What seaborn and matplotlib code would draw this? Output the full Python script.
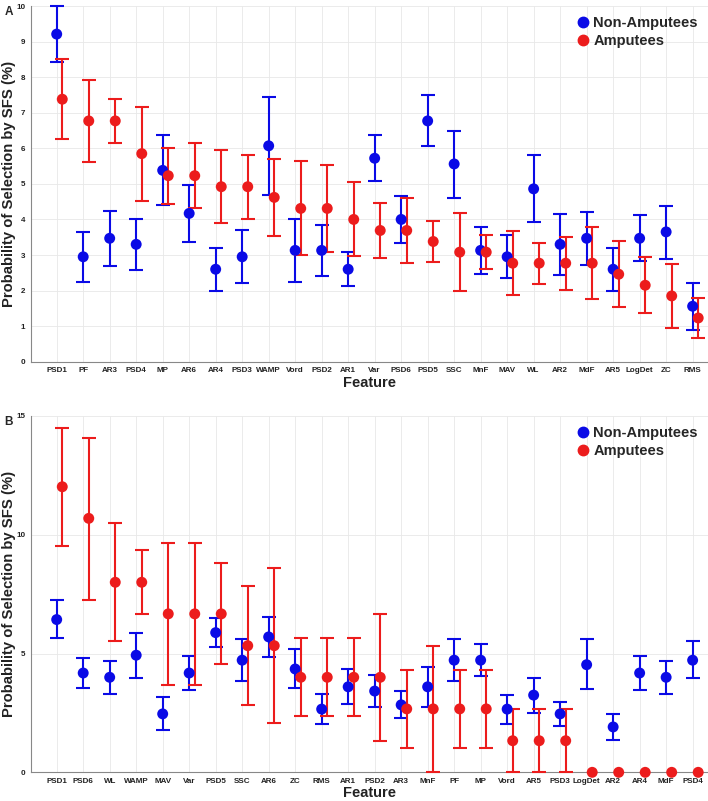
import numpy as np
import pandas as pd
import matplotlib
matplotlib.use("Agg")
import matplotlib.pyplot as plt
import seaborn as sns
from matplotlib.lines import Line2D

# ── Data: panel A ────────────────────────────────────────────
feat_a = ["PSD1", "PF", "AR3", "PSD4", "MP", "AR6", "AR4", "PSD3", "WAMP", "Vord",
          "PSD2", "AR1", "Var", "PSD6", "PSD5", "SSC", "MnF", "MAV", "WL", "AR2",
          "MdF", "AR5", "LogDet", "ZC", "RMS"]
non_a = [9.21, 2.95, 3.47, 3.30, 5.38, 4.17, 2.60, 2.95, 6.07, 3.13,
         3.13, 2.60, 5.72, 4.00, 6.77, 5.56, 3.13, 2.95, 4.86, 3.30,
         3.47, 2.60, 3.47, 3.65, 1.56]
non_a_hi = [10.0, 3.65, 4.25, 4.02, 6.38, 4.97, 3.20, 3.69, 7.45, 4.00,
            3.84, 3.08, 6.37, 4.65, 7.50, 6.50, 3.78, 3.55, 5.80, 4.15,
            4.22, 3.20, 4.12, 4.39, 2.22]
non_a_lo = [8.42, 2.25, 2.70, 2.58, 4.40, 3.37, 2.00, 2.21, 4.70, 2.25,
            2.42, 2.13, 5.09, 3.33, 6.07, 4.61, 2.47, 2.35, 3.93, 2.45,
            2.73, 2.00, 2.82, 2.90, 0.88]
amp_a = [7.38, 6.77, 6.77, 5.85, 5.23, 5.23, 4.92, 4.92, 4.62, 4.31,
         4.31, 4.00, 3.69, 3.69, 3.38, 3.08, 3.08, 2.77, 2.77, 2.77,
         2.77, 2.46, 2.15, 1.85, 1.23]
amp_a_hi = [8.51, 7.92, 7.38, 7.17, 6.02, 6.15, 5.95, 5.82, 5.71, 5.63,
            5.54, 5.04, 4.47, 4.60, 3.96, 4.17, 3.57, 3.67, 3.34, 3.52,
            3.78, 3.38, 2.95, 2.74, 1.80]
amp_a_lo = [6.25, 5.62, 6.15, 4.52, 4.44, 4.31, 3.90, 4.02, 3.53, 2.99,
            3.08, 2.96, 2.91, 2.77, 2.80, 1.98, 2.60, 1.87, 2.19, 2.02,
            1.75, 1.54, 1.36, 0.95, 0.66]

# ── Data: panel B ────────────────────────────────────────────
feat_b = ["PSD1", "PSD6", "WL", "WAMP", "MAV", "Var", "PSD5", "SSC", "AR6", "ZC",
          "RMS", "AR1", "PSD2", "AR3", "MnF", "PF", "MP", "Vord", "AR5", "PSD3",
          "LogDet", "AR2", "AR4", "MdF", "PSD4"]
non_b = [6.43, 4.18, 4.00, 4.93, 2.46, 4.18, 5.88, 4.72, 5.70, 4.35,
         2.66, 3.60, 3.42, 2.84, 3.60, 4.72, 4.72, 2.66, 3.25, 2.46,
         4.53, 1.91, 4.18, 4.00, 4.72]
non_b_hi = [7.26, 4.80, 4.70, 5.86, 3.18, 4.90, 6.48, 5.62, 6.52, 5.20,
            3.28, 4.35, 4.10, 3.42, 4.44, 5.62, 5.42, 3.27, 3.97, 2.96,
            5.60, 2.45, 4.90, 4.70, 5.52]
non_b_lo = [5.64, 3.57, 3.29, 3.98, 1.77, 3.45, 5.29, 3.86, 4.87, 3.54,
            2.05, 2.88, 2.75, 2.27, 2.77, 3.86, 4.05, 2.05, 2.48, 1.96,
            3.52, 1.36, 3.45, 3.28, 3.96]
amp_b = [12.02, 10.69, 8.00, 8.00, 6.67, 6.67, 6.67, 5.33, 5.33, 4.00,
         4.00, 4.00, 4.00, 2.67, 2.67, 2.67, 2.67, 1.33, 1.33, 1.33,
         0.0, 0.0, 0.0, 0.0, 0.0]
amp_b_hi = [14.49, 14.07, 10.51, 9.35, 9.66, 9.66, 8.80, 7.84, 8.60, 5.65,
            5.65, 5.65, 6.66, 4.31, 5.33, 4.31, 4.31, 2.67, 2.67, 2.67,
            0.0, 0.0, 0.0, 0.0, 0.0]
amp_b_lo = [9.52, 7.27, 5.51, 6.67, 3.69, 3.69, 4.56, 2.85, 2.08, 2.37,
            2.37, 2.37, 1.33, 1.04, 0.0, 1.04, 1.04, 0.0, 0.0, 0.0,
            0.0, 0.0, 0.0, 0.0, 0.0]

BLUE = "#0a0ae6"
RED = "#ec1c1c"
GROUPS = ["Non-Amputees", "Amputees"]
PALETTE = {"Non-Amputees": BLUE, "Amputees": RED}

sns.set_style("whitegrid")
plt.rcParams["font.family"] = ["Liberation Sans", "DejaVu Sans"]
plt.rcParams["font.weight"] = "bold"


def make_frame(feats, nv, nhi, nlo, av, ahi, alo):
    pos = np.arange(1, len(feats) + 1)
    rows = []
    for grp, v, hi, lo, off in [(GROUPS[0], nv, nhi, nlo, 0.0),
                                (GROUPS[1], av, ahi, alo, 0.21)]:
        rows.append(pd.DataFrame({"feature": feats, "x": pos + off, "group": grp,
                                  "value": v, "hi": hi, "lo": lo}))
    return pd.concat(rows, ignore_index=True)


def draw_panel(ax, df, feats, ymax, yticks):
    for grp in GROUPS:
        d = df[df["group"] == grp]
        d = d[d["hi"] > d["lo"]]
        ax.errorbar(d["x"], d["value"], yerr=[d["value"] - d["lo"], d["hi"] - d["value"]],
                    fmt="none", ecolor=PALETTE[grp], elinewidth=1.5, capsize=5,
                    capthick=1.5, zorder=3, clip_on=False)
        sub = df[df["group"] == grp]
        sns.scatterplot(data=sub, x="x", y="value", color=PALETTE[grp], s=62,
                        edgecolor="none", linewidth=0, ax=ax, legend=False, zorder=4)
    for coll in ax.collections:
        coll.set_clip_on(False)

    ax.set_xlim(0.02, 25.58)
    ax.set_ylim(0, ymax)
    ax.set_xticks(np.arange(1, len(feats) + 1))
    ax.set_xticklabels(feats)
    ax.set_yticks(yticks)
    ax.tick_params(axis="both", direction="in", length=3, width=0.6, color="#888888",
                   labelsize=5.8, labelcolor="#222222", pad=4)
    for lab in ax.get_xticklabels() + ax.get_yticklabels():
        lab.set_fontweight("bold")
    ax.grid(True, color="#e8e8e8", linewidth=0.6)
    for side in ["top", "right"]:
        ax.spines[side].set_visible(False)
    for side in ["left", "bottom"]:
        ax.spines[side].set_color("#888888")
        ax.spines[side].set_linewidth(0.8)
    ax.set_xlabel("Feature", fontsize=10.5, fontweight="bold", color="#222222", labelpad=1)
    ax.set_ylabel("Probability of Selection by SFS (%)", fontsize=10.7, fontweight="bold",
                  color="#222222")
    ax.yaxis.set_label_coords(-0.022, 0.5)
    handles = [Line2D([], [], marker="o", linestyle="none", color=PALETTE[g],
                      markersize=7.5) for g in GROUPS]
    ax.legend(handles, GROUPS, loc="upper right", bbox_to_anchor=(1.0, 1.0),
              frameon=False, prop={"weight": "bold", "size": 10.5},
              handletextpad=0.1, labelspacing=0.25, borderaxespad=0.3, handlelength=1.2)


df_a = make_frame(feat_a, non_a, non_a_hi, non_a_lo, amp_a, amp_a_hi, amp_a_lo)
df_b = make_frame(feat_b, non_b, non_b_hi, non_b_lo, amp_b, amp_b_hi, amp_b_lo)

fig = plt.figure(figsize=(7.08, 8.01), dpi=100)
ax_a = fig.add_axes([0.0434, 0.5484, 0.9566, 0.4441])
ax_b = fig.add_axes([0.0434, 0.0358, 0.9566, 0.4449])

draw_panel(ax_a, df_a, feat_a, 10, np.arange(0, 11, 1))
draw_panel(ax_b, df_b, feat_b, 15, [0, 5, 10, 15])

fig.text(0.006, 0.992, "A", fontsize=8.5, fontweight="bold", va="top")
fig.text(0.006, 0.481, "B", fontsize=8.5, fontweight="bold", va="top")

fig.savefig("out.png", dpi=100)
